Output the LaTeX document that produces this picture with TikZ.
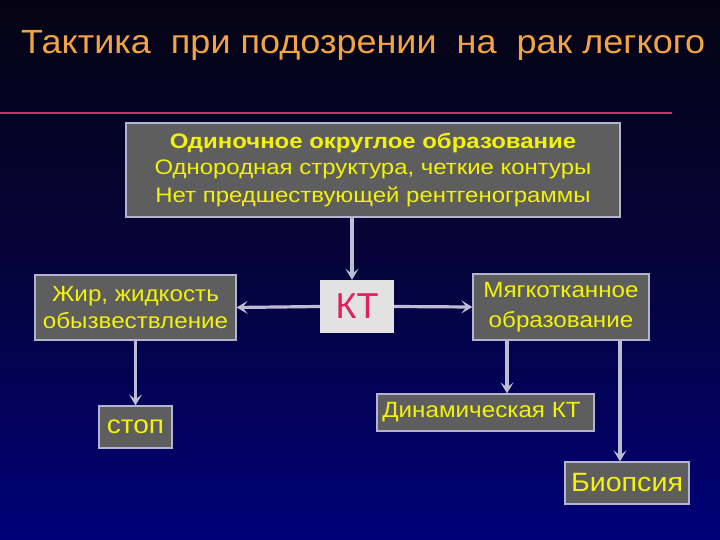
\documentclass[tikz,border=0pt]{standalone}
\usepackage{fontspec}
\usepackage{graphicx}
\setmainfont{Liberation Sans}
\usetikzlibrary{arrows.meta}
\definecolor{bgtop}{HTML}{050312}
\definecolor{bgmid}{HTML}{04043C}
\definecolor{bgbot}{HTML}{000078}
\definecolor{boxfill}{HTML}{5E5E5E}
\definecolor{boxline}{HTML}{B4B4D2}
\definecolor{txtyel}{HTML}{F2F20A}
\definecolor{titleor}{HTML}{F2A440}
\definecolor{rule}{HTML}{C8346A}
\definecolor{ktfill}{HTML}{E2E2E2}
\definecolor{ktred}{HTML}{E0205C}
\definecolor{arrcol}{HTML}{BCBCD4}
\newcommand{\sx}[1]{\scalebox{1.1}[1]{#1}}
\tikzset{
  gbox/.style={draw=boxline, line width=1.2pt, fill=boxfill, text=txtyel, align=center, inner sep=0pt},
  arr/.style={draw=arrcol, line width=3.2pt, -{Stealth[length=11pt,width=13pt,inset=5pt]}},
}
\begin{document}
\begin{tikzpicture}[x=1pt,y=-1pt]
\useasboundingbox (0,0) rectangle (720,540);
\shade[top color=bgtop, bottom color=bgbot, middle color=bgmid] (0,0) rectangle (720,540);
% title
\node[text=black!85!blue, anchor=west, font=\fontsize{33.5}{38}\selectfont, inner sep=0pt] at (22.5,46.5) {\scalebox{1.075}[1]{Тактика\ \ при подозрении\ \ на\ \ рак легкого}};
\node[text=titleor, anchor=west, font=\fontsize{33.5}{38}\selectfont, inner sep=0pt] (title) at (21,45) {\scalebox{1.075}[1]{Тактика\ \ при подозрении\ \ на\ \ рак легкого}};
\draw[rule, line width=2.2pt] (0,113) -- (672,113);
% nodes
\node[gbox, minimum width=494, minimum height=94, font=\fontsize{21}{28}\selectfont] (top) at (373,170)
  {\raisebox{-2pt}{\scalebox{1.14}[1]{\textbf{Одиночное округлое образование}}}\\\scalebox{1.14}[1]{Однородная структура, четкие контуры}\\\scalebox{1.14}[1]{Нет предшествующей рентгенограммы}};
\node[gbox, minimum width=201, minimum height=65, font=\fontsize{22}{27}\selectfont] (left) at (135.5,307.5)
  {\sx{Жир, жидкость}\\\sx{обызвествление}};
\node[draw=none, fill=ktfill, text=ktred, minimum width=74, minimum height=53, inner sep=0pt, font=\fontsize{36}{40}\selectfont] (kt) at (357,306.5) {КТ};
\node[gbox, minimum width=176, minimum height=66, font=\fontsize{22}{28}\selectfont] (right) at (561,307)
  {\raisebox{2pt}{\sx{Мягкотканное}}\\\sx{образование}};
\node[gbox, minimum width=73, minimum height=42, font=\fontsize{25.5}{28}\selectfont] (stop) at (135.5,427) {\sx{стоп}};
\node[gbox, minimum width=217, minimum height=37, font=\fontsize{22}{24}\selectfont] (dyn) at (485.5,412.5) {\hspace*{-8pt}\sx{Динамическая КТ}};
\node[gbox, minimum width=124, minimum height=42, font=\fontsize{26.5}{28}\selectfont] (bio) at (627,483) {\scalebox{1.08}[1]{Биопсия}};
% helper coordinates
\coordinate (cx) at (352,0);
\coordinate (ra) at (507,0);
\coordinate (rb) at (620,0);
% connectors
\draw[arr] (top.south -| cx) -- (kt.north -| cx);
\draw[arr] (kt.west) -- (left.east);
\draw[arr] (kt.east) -- (right.west);
\draw[arr] (left.south) -- (stop.north);
\draw[arr] (right.south -| ra) -- (dyn.north -| ra);
\draw[arr] (right.south -| rb) -- (bio.north -| rb);
\end{tikzpicture}
\end{document}
